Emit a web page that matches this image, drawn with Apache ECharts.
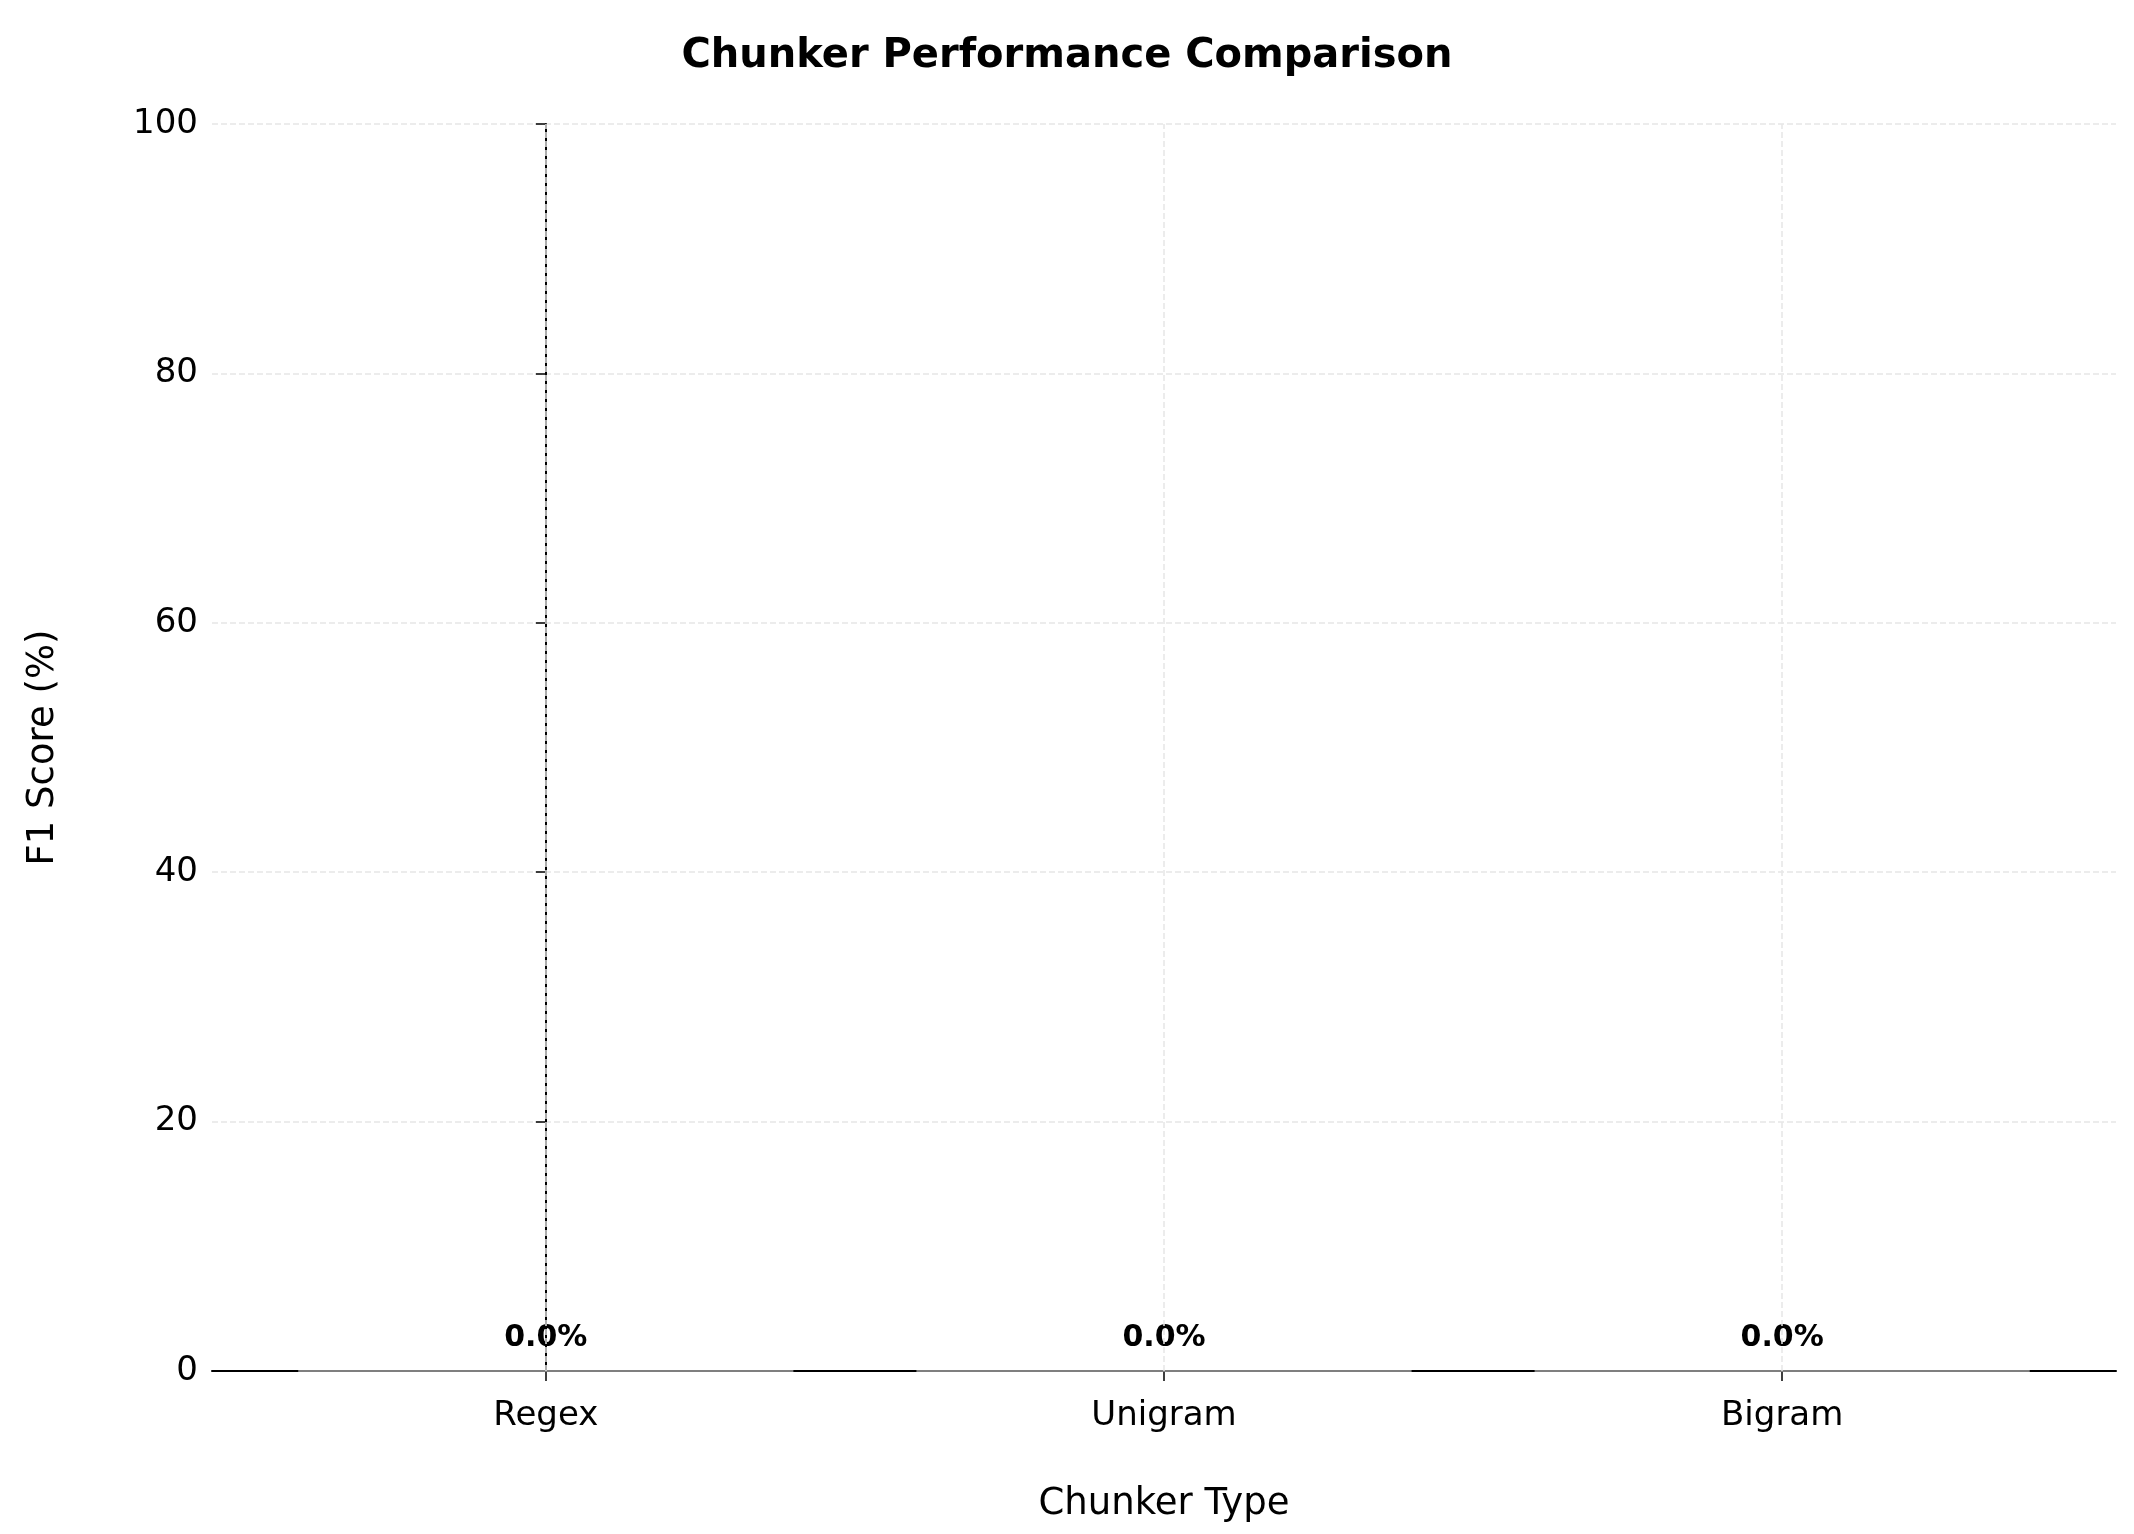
<!DOCTYPE html>
<html>
<head>
<meta charset="utf-8">
<script src="https://cdn.jsdelivr.net/npm/echarts@6/dist/echarts.min.js"></script>
<style>html,body{margin:0;padding:0;background:#fff}#main{width:2134px;height:1534px}</style>
</head>
<body>
<div id="main"></div>
<script>
// chunker types and their F1 scores
var chunkers = ['Regex', 'Unigram', 'Bigram'];
var f1Scores = [0.0, 0.0, 0.0];
var yTicks = [0, 20, 40, 60, 80, 100];
var xPos = [0, 1, 2];

var myChart = echarts.init(document.getElementById('main'));
var font = 'DejaVu Sans';
var gridLine = {color: '#e6e6e6', type: 'dashed', width: 1.5};
var option = {
    backgroundColor: '#fff',
    title: {
        text: 'Chunker Performance Comparison',
        left: 'center', top: 32,
        textStyle: {fontFamily: font, fontSize: 40, fontWeight: 'bold', color: '#000'}
    },
    grid: {left: 212, right: 18, top: 124, bottom: 163},
    xAxis: {
        type: 'value', min: -0.54, max: 2.54,
        name: 'Chunker Type', nameLocation: 'middle', nameGap: 115,
        nameTextStyle: {fontFamily: font, fontSize: 37, color: '#000'},
        axisLine: {show: true, onZero: false, lineStyle: {color: '#000', width: 2}},
        axisTick: {show: true, customValues: xPos, length: 10, lineStyle: {color: '#000', width: 1.5}},
        axisLabel: {fontFamily: font, fontSize: 34, color: '#000', margin: 28, customValues: xPos,
            formatter: function(v){ return chunkers[Math.round(v)]; }},
        splitLine: {show: false}
    },
    yAxis: {
        type: 'value', min: 0, max: 100, interval: 20,
        name: 'F1 Score (%)', nameLocation: 'middle', nameGap: 150,
        nameTextStyle: {fontFamily: font, fontSize: 37, color: '#000'},
        axisLine: {show: true, lineStyle: {color: '#000', width: 2}},
        axisTick: {show: true, length: 10, lineStyle: {color: '#000', width: 1.5}},
        axisLabel: {fontFamily: font, fontSize: 34, color: '#000', margin: 14,
            formatter: function(v){ return yTicks.indexOf(v) >= 0 ? v : ''; }},
        splitLine: {show: true, lineStyle: gridLine}
    },
    series: [{
        type: 'bar', barWidth: 495, z: 1,
        data: xPos.map(function(x, i){ return [x, f1Scores[i]]; }),
        itemStyle: {color: '#4c72b0', borderColor: '#aaa', borderWidth: 1},
        label: {
            show: true, position: 'top', distance: 17,
            fontFamily: font, fontSize: 30, fontWeight: 'bold', color: '#000',
            formatter: function(p){ return p.value[1].toFixed(1) + '%'; }
        },
        markLine: {
            silent: true, symbol: 'none', label: {show: false},
            lineStyle: gridLine,
            data: xPos.map(function(x){ return {xAxis: x}; })
        }
    }]
};
myChart.setOption(option);
</script>
</body>
</html>
